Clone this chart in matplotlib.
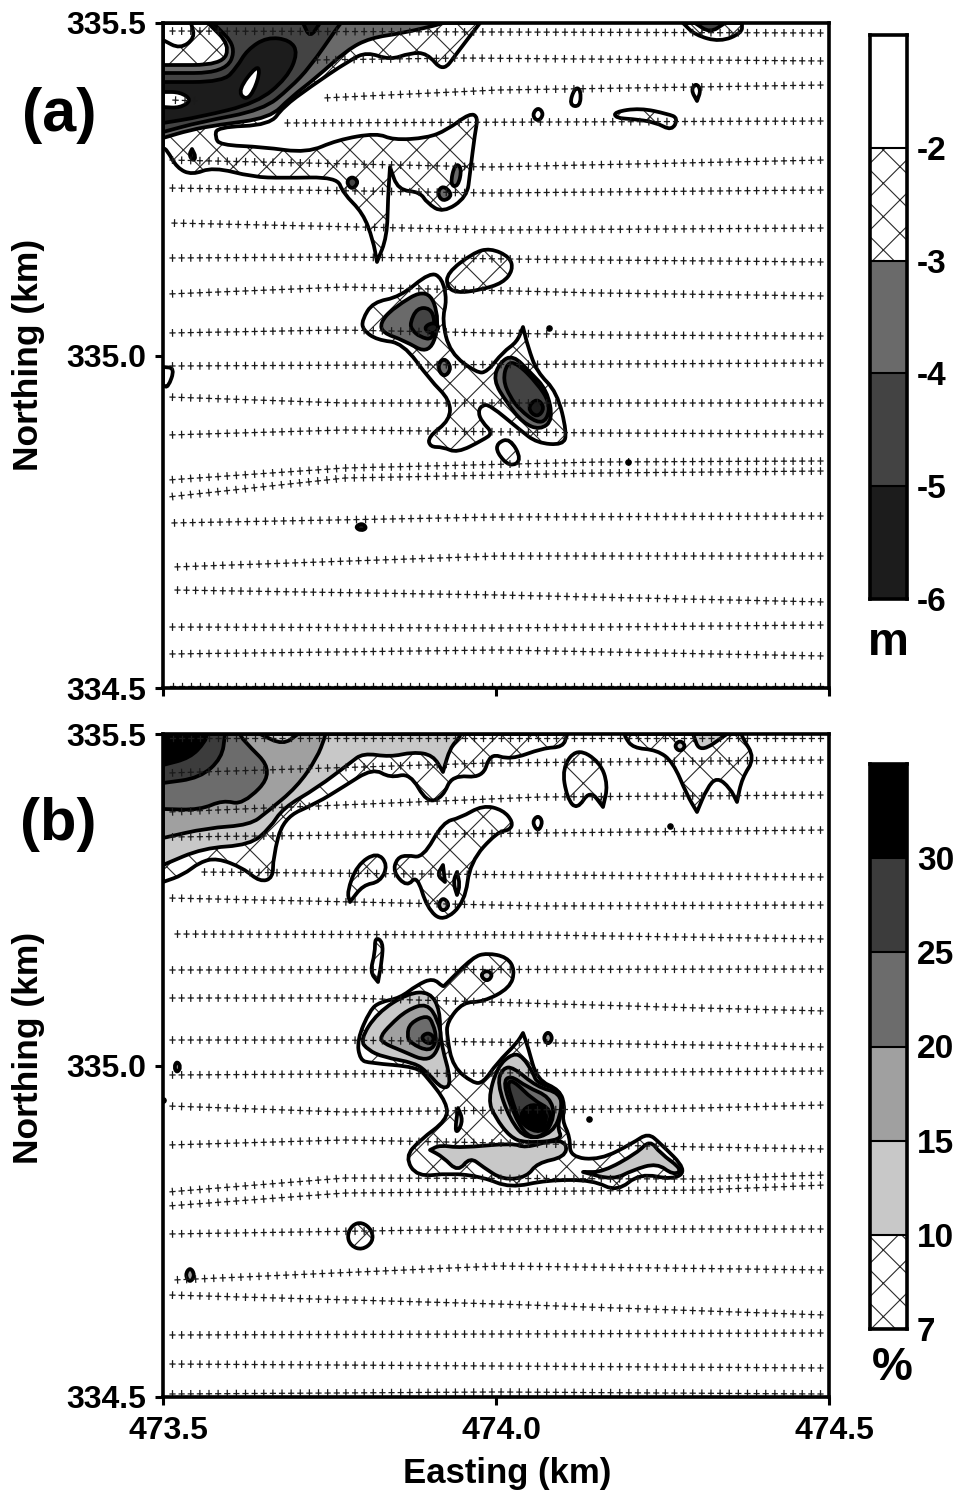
import numpy as np
import matplotlib
matplotlib.use("Agg")
import matplotlib.pyplot as plt
from matplotlib.patches import PathPatch
from matplotlib.path import Path
from matplotlib.transforms import ScaledTranslation
from matplotlib import patheffects as pe

plt.rcParams['font.family'] = ['Liberation Sans', 'DejaVu Sans']
plt.rcParams['font.weight'] = 'bold'
plt.rcParams['hatch.linewidth'] = 0.8
plt.rcParams['lines.scale_dashes'] = False

# Map readings are in survey cells from the SW corner of each panel
E0, N0 = 473.5, 334.5
CELLS_E = 666.0
CELLS_N_A = 665.0
CELLS_N_B = 663.0

xticks = [473.5, 474.0, 474.5]
yticks = [334.5, 335.0, 335.5]

# Colours of the classes
HATCH = 'hatch'
WHITE = '#ffffff'
A3, A4, A5 = '#6a6a6a', '#434343', '#1c1c1c'
B10, B15, B20, B25, B30 = '#c8c8c8', '#a0a0a0', '#6c6c6c', '#3c3c3c', '#000000'

# Panel (a): water depth change classes, painted in this order
a_top = [(0,540),(4,538),(14,520),(29,513),(50,521),(90,511),(120,510),(174,511),(180,495),(200,475),(210,448),(214,426),
         (224,451),(225,491),(227,521),(235,498),(257,496),(264,485),(280,475),(304,491),(307,515),(312,555),(315,571),
         (307,575),(284,558),(264,550),(230,548),(214,555),(174,548),(144,535),(100,541),(57,543),(52,551),(54,561),
         (107,563),(120,581),(147,601),(187,628),(204,636),(227,628),(247,635),(264,635),(280,616),(294,635),(317,665),(0,665)]
a_top_pocket = [(0,665),(28,665),(32,650),(17,639),(0,648)]
a_top_3 = [(0,550),(27,558),(54,563),(107,570),(127,590),(154,611),(184,638),(207,650),(240,655),(274,663),(280,665),
           (45,665),(67,643),(59,623),(0,623)]
a_top_4 = [(0,556),(37,566),(100,578),(127,600),(147,621),(174,660),(178,665),(50,665),(74,641),(62,615),(0,615)]
a_top_5 = [(0,565),(37,571),(94,585),(124,610),(135,635),(127,648),(104,651),(84,638),(74,621),(60,606),(0,606)]
a_top_lobe = [(140,665),(147,650),(157,665)]
a_top_hole = [(75,598),(94,623),(97,615),(90,595),(82,588)]
a_left_hole = [(0,596),(17,596),(29,588),(17,580),(0,581)]
a_spot1 = [(26,533),(29,539),(33,531),(30,527)]
a_spot2 = [(183,506),(189,512),(196,506),(189,498)]
a_spot3 = [(287,503),(292,525),(299,520),(295,501)]
a_spot4 = [(274,495),(280,503),(290,493),(280,486)]
a_ne = [(520,665),(532,653),(557,646),(579,655),(579,665)]
a_ne_3 = [(532,665),(547,655),(562,665)]
a_isl1 = [(369,573),(375,581),(381,574),(375,566)]
a_isl2 = [(406,583),(412,601),(418,598),(417,581)]
a_isl3 = [(528,598),(533,605),(538,598),(534,587)]
a_isl4 = [(451,576),(477,580),(505,574),(515,570),(509,557),(492,566),(469,569),(453,570)]
a_edge = [(0,321),(12,320),(5,300),(0,303)]
a_mid = [(199,368),(210,386),(237,391),(267,416),(279,410),(284,388),(279,368),(287,335),(314,315),(324,316),(340,336),
         (354,346),(360,361),(365,341),(374,316),(394,296),(404,255),(400,243),(374,245),(357,258),(327,283),(319,283),
         (315,276),(319,266),(330,255),(320,248),(294,235),(280,241),(267,241),(265,251),(287,268),(287,288),(267,308),
         (240,345),(214,348),(200,358)]
a_lobe_n = [(284,415),(310,435),(327,440),(347,431),(350,418),(340,405),(317,398),(294,395),(284,401)]
a_lobe_s = [(334,245),(347,250),(359,228),(347,221),(334,235)]
a_w3 = [(217,365),(230,380),(265,401),(277,368),(267,333),(240,348),(220,355)]
a_w4 = [(247,365),(254,380),(267,380),(272,368),(270,348),(257,351),(249,358)]
a_w5 = [(260,360),(270,366),(277,361),(270,353)]
a_dia = [(274,321),(281,331),(289,320),(281,310)]
a_e3 = [(330,308),(337,326),(350,333),(367,316),(384,298),(390,268),(377,258),(360,265),(344,285)]
a_e4 = [(340,308),(344,325),(354,325),(374,305),(387,285),(384,268),(374,265),(357,278),(347,291)]
a_e5 = [(364,280),(374,290),(382,280),(374,270)]
a_spec = [(192,161),(199,165),(204,160),(198,157)]
a_dots = [(386,360),(465,226)]

regions_a = [(a_top, HATCH), (a_top_pocket, WHITE), (a_top_3, A3), (a_top_4, A4), (a_top_5, A5), (a_top_lobe, A5),
             (a_top_hole, WHITE), (a_left_hole, WHITE), (a_spot1, A5), (a_spot2, A4), (a_spot3, A3), (a_spot4, A3),
             (a_ne, HATCH), (a_ne_3, A4), (a_isl1, HATCH), (a_isl2, HATCH), (a_isl3, HATCH), (a_isl4, HATCH),
             (a_edge, WHITE), (a_mid, HATCH), (a_lobe_n, HATCH), (a_lobe_s, HATCH), (a_w3, A3), (a_w4, A4), (a_w5, A5),
             (a_dia, A3), (a_e3, A3), (a_e4, A4), (a_e5, A5), (a_spec, A5)]

# Panel (b): percentage classes
b_top = [(0,515),(20,522),(37,535),(54,539),(80,529),(97,515),(110,519),(110,539),(120,579),(154,594),(180,610),(210,629),
         (227,619),(247,624),(264,594),(280,600),(289,622),(320,619),(327,644),(347,637),(380,649),(400,650),(404,662),
         (404,663),(0,663)]
b_top_10 = [(0,532),(40,549),(87,552),(107,569),(120,589),(154,609),(187,634),(200,644),(227,640),(250,645),(270,642),
            (280,625),(287,649),(297,660),(297,663),(0,663)]
b_top_15 = [(0,559),(44,569),(87,572),(104,585),(134,610),(154,639),(162,660),(162,663),(0,663)]
b_top_pocket = [(97,663),(120,652),(135,663)]
b_top_20 = [(0,588),(37,587),(60,597),(80,592),(112,625),(80,657),(77,663),(0,663)]
b_top_25 = [(0,614),(37,619),(59,639),(62,663),(0,663)]
b_top_30 = [(0,632),(27,639),(42,655),(44,663),(0,663)]
b_n1 = [(280,575),(297,579),(320,592),(340,587),(350,575),(347,567),(334,565),(307,535),(302,495),(280,475),(264,489),
        (254,522),(244,510),(230,525),(234,539),(244,542),(260,539)]
b_n2 = [(184,505),(194,532),(214,545),(225,532),(217,515),(200,512),(187,495)]
b_r1 = [(274,522),(280,532),(282,515)]
b_r2 = [(294,525),(297,512),(294,502),(290,515)]
b_r3 = [(280,500),(287,492),(280,485),(275,492)]
b_isl = [(369,575),(375,582),(380,575),(375,565)]
b_ne1 = [(399,629),(414,649),(437,635),(445,612),(440,590),(427,607),(414,587),(404,599)]
b_ne2 = [(462,663),(462,660),(470,649),(494,647),(510,635),(524,602),(534,585),(544,609),(554,620),(567,609),(574,595),
         (579,619),(592,639),(579,660),(579,663)]
b_ne2_10 = [(530,663),(537,644),(564,663)]
b_ne_ring = [(511,651),(517,657),(523,651),(517,645)]
b_thin = [(212,460),(220,455),(219,437),(215,415),(207,425),(212,444)]
b_mid = [(194,357),(207,387),(217,395),(237,399),(254,412),(270,419),(280,410),(282,412),(310,440),(324,444),(344,440),
         (352,427),(347,409),(320,395),(300,395),(284,375),(284,360),(290,330),(310,314),(320,314),(334,334),(354,354),
         (360,364),(365,350),(374,317),(397,307),(402,290),(399,277),(407,260),(407,240),(437,237),(470,254),(485,264),
         (497,254),(524,227),(510,217),(477,224),(454,205),(430,217),(384,217),(347,209),(320,220),(287,224),(254,220),
         (242,240),(257,257),(284,277),(284,294),(264,320),(254,330),(207,334),(197,337)]
b_w10 = [(197,357),(214,384),(245,404),(267,405),(277,387),(277,357),(289,314),(280,307),(264,325),(252,334),(220,340),(205,347)]
b_w15 = [(217,360),(227,372),(244,387),(264,394),(275,377),(279,357),(267,334),(237,347),(220,354)]
b_w20 = [(244,362),(247,374),(264,382),(270,374),(274,357),(267,345),(247,354)]
b_w25 = [(257,359),(265,365),(272,359),(267,352)]
b_e10 = [(325,297),(334,330),(350,344),(360,340),(370,324),(374,314),(397,307),(400,290),(394,270),(400,257),(362,254),(347,260),(332,280)]
b_e15 = [(334,314),(340,329),(350,330),(374,310),(397,304),(399,287),(390,264),(364,257),(347,277)]
b_e20 = [(340,314),(347,322),(364,310),(387,300),(392,280),(380,260),(364,260),(350,284)]
b_e25 = [(344,314),(350,317),(370,297),(389,287),(385,270),(374,264),(357,274),(350,294)]
b_e30 = [(357,284),(369,294),(384,287),(382,270),(370,267),(360,274)]
b_ell = [(292,267),(295,289),(300,277),(295,265)]
b_s10 = [(267,247),(277,252),(297,249),(350,254),(362,249),(390,257),(404,254),(402,240),(374,234),(364,220),(340,217),
         (320,230),(307,240),(295,225),(280,240)]
b_tail10 = [(420,225),(440,225),(474,244),(487,257),(497,244),(520,227),(510,222),(494,234),(470,227),(450,217)]
b_ring = [(317,422),(324,427),(330,422),(324,415)]
b_circ = [(184,161),(189,172),(199,175),(209,167),(210,155),(199,147),(188,151)]
b_sp1 = [(22,122),(27,130),(32,122),(27,114)]
b_sp2 = [(11,330),(14,336),(18,330),(14,324)]
b_sp3 = [(380,359),(385,366),(390,359),(385,352)]
b_dots = [(426,278),(0,297),(507,571)]

regions_b = [(b_top, HATCH), (b_top_10, B10), (b_top_15, B15), (b_top_pocket, B10), (b_top_20, B20), (b_top_25, B25),
             (b_top_30, B30), (b_n1, HATCH), (b_n2, HATCH), (b_r1, B10), (b_r2, B10), (b_r3, B10), (b_isl, HATCH),
             (b_ne1, HATCH), (b_ne2, HATCH), (b_ne2_10, B10), (b_ne_ring, B10), (b_thin, HATCH), (b_mid, HATCH),
             (b_w10, B10), (b_w15, B15), (b_w20, B20), (b_w25, B25), (b_e10, B10), (b_e15, B15), (b_e20, B20),
             (b_e25, B25), (b_e30, B30), (b_ell, B10), (b_s10, B10), (b_tail10, B10), (b_ring, B10), (b_circ, HATCH),
             (b_sp1, B15), (b_sp2, B15), (b_sp3, B15)]

# Survey tracks (the + lines)
tracks_a = [[(5,657),(662,655)], [(150,628),(300,630),(662,627)], [(8,588),(36,587)], [(160,590),(335,598),(662,603)],
            [(120,565),(662,567)], [(5,528),(327,521),(662,528)], [(5,500),(327,495),(662,498)],
            [(7,465),(337,458),(662,460)], [(5,430),(177,431),(437,428),(662,426)],
            [(5,394),(182,401),(437,395),(662,392)], [(5,355),(177,358),(437,353),(662,352)], [(5,322),(662,325)],
            [(5,291),(182,285),(437,285),(662,285)], [(5,253),(182,258),(437,255),(662,254)],
            [(5,208),(182,220),(437,226),(662,227)], [(5,191),(182,210),(437,215),(662,217)],
            [(7,165),(335,171),(662,172)], [(10,121),(335,132),(662,132)], [(10,98),(335,93),(662,86)],
            [(5,61),(335,60),(662,63)], [(5,34),(335,38),(662,32)], [(5,2),(662,2)]]
tracks_b = [[(5,659),(662,659)], [(5,624),(327,634),(662,637)], [(5,585),(377,600),(662,602)],
            [(5,560),(377,564),(662,567)], [(37,525),(377,522),(662,520)], [(5,499),(377,491),(662,492)],
            [(10,463),(377,462),(662,458)], [(5,427),(662,428)], [(5,399),(182,399),(537,389),(662,386)],
            [(5,357),(177,357),(537,352),(662,350)], [(5,322),(662,326)], [(5,291),(182,285),(537,289),(662,292)],
            [(5,252),(182,257),(537,250),(662,248)], [(5,205),(182,219),(537,218),(662,222)],
            [(5,191),(182,204),(537,207),(662,212)], [(5,163),(335,168),(662,168)], [(10,117),(335,131),(662,127)],
            [(5,102),(335,93),(662,82)], [(5,62),(662,64)], [(5,33),(662,29)], [(5,3),(335,5),(662,3)]]

# Colour bars
levels_a = ['-6', '-5', '-4', '-3', '-2']
colors_a = [A5, A4, A3, HATCH, WHITE]
levels_b = ['7', '10', '15', '20', '25', '30']
colors_b = [HATCH, B10, B15, B20, B25, B30]

W, H = 957.0, 1495.0
LW = 2.7
SPACING = 6.5


def to_km(pts, cells_n):
    pts = np.array(pts, dtype=float)
    return np.column_stack([E0 + pts[:, 0] / CELLS_E, N0 + pts[:, 1] / cells_n])


def smooth_path(pts, cells_n):
    # round the outline, keep spikes and vertices on the frame sharp
    p = np.array(pts, dtype=float)
    n = len(p)
    verts = [(p[-1] + p[0]) / 2]
    codes = [Path.MOVETO]
    for i in range(n):
        a = p[i - 1] - p[i]
        b = p[(i + 1) % n] - p[i]
        cosang = a @ b / (np.hypot(*a) * np.hypot(*b))
        on_frame = p[i, 0] <= 0 or p[i, 1] >= cells_n - 1
        mid = (p[i] + p[(i + 1) % n]) / 2
        if on_frame or cosang > 0.55:
            verts += [p[i], mid]
            codes += [Path.LINETO, Path.LINETO]
        else:
            verts += [p[i], mid]
            codes += [Path.CURVE3, Path.CURVE3]
    verts.append(verts[0])
    codes.append(Path.CLOSEPOLY)
    return Path(to_km(verts, cells_n), codes)


def paint(ax, path, color, z):
    if color == HATCH:
        ax.add_patch(PathPatch(path, facecolor='white', edgecolor='#2a2a2a', hatch='x', lw=0, zorder=z))
    else:
        ax.add_patch(PathPatch(path, facecolor=color, edgecolor='none', zorder=z))
    ax.add_patch(PathPatch(path, fill=False, edgecolor='k', lw=LW, joinstyle='round', zorder=z))


def draw_track(ax, t, cells_n):
    xy = to_km(t, cells_n)
    # same tick period that TickedStroke will end up with, so the arms meet
    cells = np.array(t, dtype=float)
    total = np.hypot(*np.diff(cells, axis=0).T).sum() * 0.72
    num = int(np.ceil(total / SPACING)) - 1
    period = (total - SPACING) / (num - 1) if num > 1 else SPACING
    on = 0.68 * period
    offset = (period - (SPACING / 2 - on / 2)) % period
    ax.plot(xy[:, 0], xy[:, 1], color='#1a1a1a', lw=0.9, zorder=5,
            linestyle=(offset, (on, period - on)))
    ax.plot(xy[:, 0], xy[:, 1], color='#1a1a1a', lw=0.9, zorder=5,
            path_effects=[pe.TickedStroke(spacing=SPACING, angle=90, length=0.36),
                          pe.TickedStroke(spacing=SPACING, angle=-90, length=0.36)])


def draw_map(ax, regions, tracks, dots, cells_n):
    z = 2
    for pts, color in regions:
        paint(ax, smooth_path(pts, cells_n), color, z)
        z += 0.01
    for t in tracks:
        draw_track(ax, t, cells_n)
    d = to_km(dots, cells_n)
    ax.scatter(d[:, 0], d[:, 1], s=14, color='k', zorder=6)
    ax.set_xlim(473.5, 474.5)
    ax.set_ylim(334.5, 335.5)
    ax.set_xticks(xticks)
    ax.set_yticks(yticks)
    ax.tick_params(length=6, width=2.2, labelsize=23)
    ax.tick_params(axis='x', pad=8)
    ax.tick_params(axis='y', pad=6)
    ax.set_yticklabels(['%.1f' % v for v in yticks])
    for s in ax.spines.values():
        s.set_linewidth(2.6)
        s.set_zorder(8)


def draw_bar(ax, colors, labels):
    for i, c in enumerate(colors):
        if c == HATCH:
            ax.bar(0, 1, bottom=i, width=1, color='white', edgecolor='#2a2a2a', hatch='x', lw=0, zorder=2)
        else:
            ax.bar(0, 1, bottom=i, width=1, color=c, edgecolor='none', zorder=2)
        ax.axhline(i, color='k', lw=1.5, zorder=3)
    ax.set_xlim(-0.5, 0.5)
    ax.set_ylim(0, len(colors))
    ax.set_xticks([])
    ax.yaxis.tick_right()
    ax.set_yticks(range(len(labels)))
    ax.set_yticklabels(labels)
    ax.tick_params(length=0, labelsize=24, pad=7)
    for s in ax.spines.values():
        s.set_linewidth(2.6)
        s.set_zorder(8)


fig = plt.figure(figsize=(W / 100, H / 100), dpi=100)
ax_a = fig.add_axes([163 / W, 1 - 688 / H, 666 / W, 665 / H])
ax_b = fig.add_axes([163 / W, 1 - 1397 / H, 666 / W, 663 / H])
draw_map(ax_a, regions_a, tracks_a, a_dots, CELLS_N_A)
draw_map(ax_b, regions_b, tracks_b, b_dots, CELLS_N_B)
ax_a.set_xticklabels([])
ax_b.set_xticklabels(['%.1f' % v for v in xticks])
# easting labels sit slightly right of their ticks
shift = ScaledTranslation(5 / 100, 0, fig.dpi_scale_trans)
for lab in ax_b.get_xticklabels():
    lab.set_transform(lab.get_transform() + shift)

cb_a = fig.add_axes([870 / W, 1 - 599 / H, 37 / W, 564 / H])
cb_b = fig.add_axes([870 / W, 1 - 1329 / H, 37 / W, 565 / H])
draw_bar(cb_a, colors_a, levels_a)
draw_bar(cb_b, colors_b, levels_b)

fig.text(59 / W, 1 - 116 / H, '(a)', fontsize=44, ha='center', va='center')
fig.text(58 / W, 1 - 824 / H, '(b)', fontsize=43, ha='center', va='center')
fig.text(29 / W, 1 - 355 / H, 'Northing (km)', fontsize=25.5, rotation=90, ha='center', va='center')
fig.text(29 / W, 1 - 1048 / H, 'Northing (km)', fontsize=25.5, rotation=90, ha='center', va='center')
fig.text(507 / W, 1 - 1473 / H, 'Easting (km)', fontsize=25, ha='center', va='center')
fig.text(888 / W, 1 - 643 / H, 'm', fontsize=33, ha='center', va='center')
fig.text(892 / W, 1 - 1368 / H, '%', fontsize=33, ha='center', va='center')

fig.savefig('out.png', dpi=100)
